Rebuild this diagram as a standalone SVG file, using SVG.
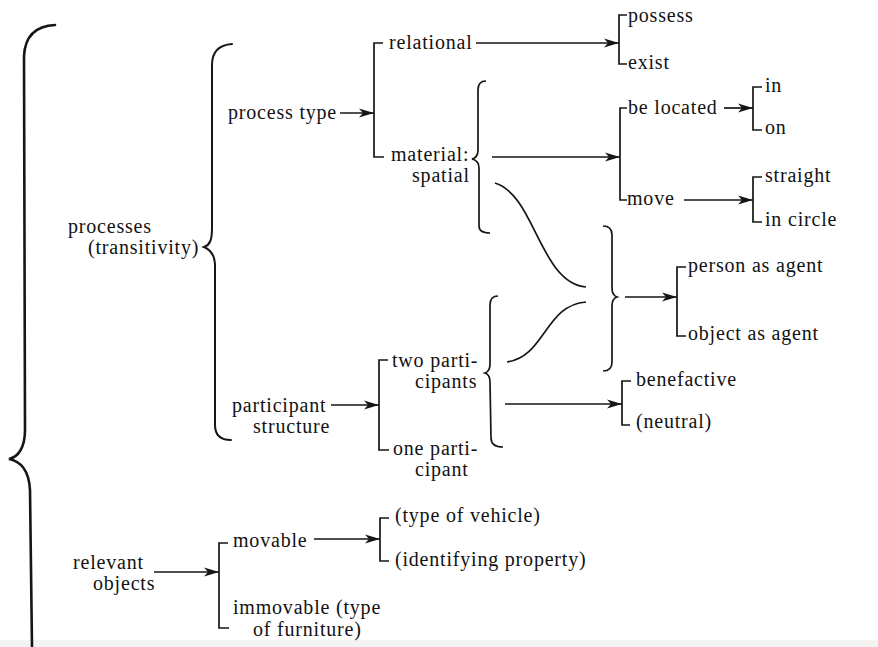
<svg xmlns="http://www.w3.org/2000/svg" width="878" height="647" viewBox="0 0 878 647">
<style>
text{font-family:"Liberation Serif","Times New Roman",serif;font-size:20px;letter-spacing:0.8px;fill:#121212}
.br{fill:none;stroke:#161616;stroke-width:1.7}
.bb{fill:none;stroke:#161616;stroke-width:2.6;stroke-linecap:round}
.ar{fill:none;stroke:#161616;stroke-width:1.7;marker-end:url(#ah)}
</style>
<defs>
<marker id="ah" markerUnits="userSpaceOnUse" markerWidth="16" markerHeight="10" viewBox="0 0 16 10" refX="15" refY="5" orient="auto">
<path d="M0,0.5 L15,5 L0,9.5 L4,5 z" fill="#161616"/>
</marker>
</defs>
<rect x="0" y="0" width="878" height="647" fill="#ffffff"/>
<rect x="0" y="640" width="878" height="7" fill="#f3f3f3"/>

<g id="connectors">
<path class="bb" d="M55,25 C35,26 25,36 24,56 L25,430 C25,448 18,457 9,459 C20,461 29,470 30,490 L32,647"/>
<path class="bb" style="stroke-width:2" d="M232,44 C218,45 212,52 212,65 L212,228 C212,240 210,245 204,247 C211,250 215,256 215,266 L215,425 C215,436 221,440 231,440"/>
<path class="br" d="M486,81 C481,81 478,84 478,90 L478,150 C478,155 476,158 472,159 C476,160 479,163 479,168 L479,226 C479,231 483,233 490,233"/>
<path class="br" d="M603,226 C609,226 612,229 612,235 L612,288 C612,293 614,296 617,297 C614,298 612,301 612,306 L612,362 C612,368 609,371 603,371"/>
<path class="br" d="M498,296 C493,296 490,299 490,305 L490,364 C490,369 488,372 485,373 C488,374 490,377 490,382 L491,438 C491,444 495,447 503,447"/>
<path class="br" d="M495,183 C535,195 540,283 586,287"/>
<path class="br" d="M507,362 C545,357 545,305 586,302"/>
<path class="br" d="M383,43 L374,43 L374,157 L384,157"/>
<path class="br" d="M627,15 L619,15 L619,64 L627,64"/>
<path class="br" d="M627,108 L620,108 L620,200 L627,200"/>
<path class="br" d="M762,87 L753,87 L753,130 L762,130"/>
<path class="br" d="M762,177 L753,177 L753,222 L762,222"/>
<path class="br" d="M686,267 L677,267 L677,336 L686,336"/>
<path class="br" d="M631,381 L622,381 L622,425 L630,425"/>
<path class="br" d="M388,360 L379,360 L379,450 L389,450"/>
<path class="br" d="M228,543 L219,543 L219,628 L229,628"/>
<path class="br" d="M389,518 L380,518 L380,561 L389,561"/>
<path class="ar" d="M340,113 L374,113"/>
<path class="ar" d="M476,43 L619,43"/>
<path class="ar" d="M492,157 L620,157"/>
<path class="ar" d="M724,108 L753,108"/>
<path class="ar" d="M684,200 L753,200"/>
<path class="ar" d="M625,297 L677,297"/>
<path class="ar" d="M505,404 L622,404"/>
<path class="ar" d="M331,405 L379,405"/>
<path class="ar" d="M154,572 L219,572"/>
<path class="ar" d="M314,539 L380,539"/>
</g>

<g id="processes"><text x="68" y="233">processes</text><text x="88" y="254">(transitivity)</text></g>
<g id="process-type"><text x="228" y="119">process type</text></g>
<g id="relational"><text x="389" y="49">relational</text></g>
<g id="material-spatial"><text x="391" y="161">material:</text><text x="412" y="182">spatial</text></g>
<g id="possess"><text x="628" y="22">possess</text></g>
<g id="exist"><text x="628" y="69">exist</text></g>
<g id="be-located"><text x="628" y="114">be located</text></g>
<g id="in"><text x="765" y="92">in</text></g>
<g id="on"><text x="765" y="134">on</text></g>
<g id="move"><text x="627" y="205">move</text></g>
<g id="straight"><text x="765" y="182">straight</text></g>
<g id="in-circle"><text x="765" y="226">in circle</text></g>
<g id="person-as-agent"><text x="688" y="272">person as agent</text></g>
<g id="object-as-agent"><text x="688" y="340">object as agent</text></g>
<g id="benefactive"><text x="636" y="386">benefactive</text></g>
<g id="neutral"><text x="636" y="428">(neutral)</text></g>
<g id="participant-structure"><text x="232" y="412">participant</text><text x="253" y="433">structure</text></g>
<g id="two-participants"><text x="392" y="367">two parti-</text><text x="415" y="388">cipants</text></g>
<g id="one-participant"><text x="393" y="455">one parti-</text><text x="415" y="476">cipant</text></g>
<g id="relevant-objects"><text x="73" y="569">relevant</text><text x="93" y="590">objects</text></g>
<g id="movable"><text x="233" y="547">movable</text></g>
<g id="type-of-vehicle"><text x="395" y="522">(type of vehicle)</text></g>
<g id="identifying-property"><text x="395" y="566">(identifying property)</text></g>
<g id="immovable"><text x="233" y="614">immovable (type</text><text x="253" y="636">of furniture)</text></g>
</svg>
